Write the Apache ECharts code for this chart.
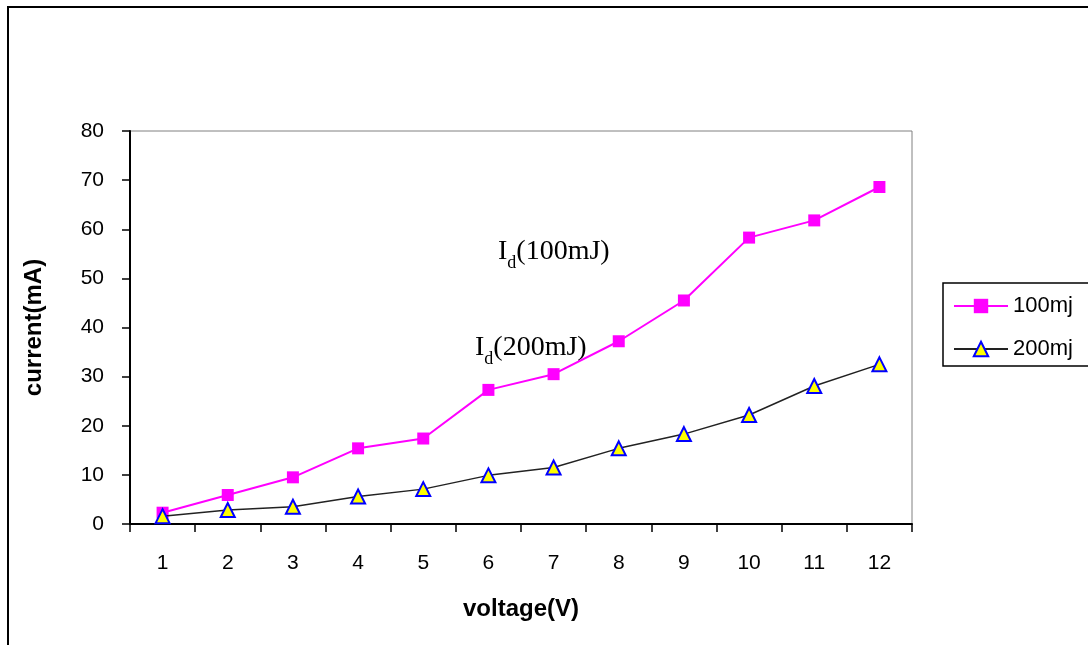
<!DOCTYPE html>
<html>
<head>
<meta charset="utf-8">
<script src="https://cdn.jsdelivr.net/npm/echarts@6/dist/echarts.min.js"></script>
<style>html,body{margin:0;padding:0;background:#fff;}#c{width:1088px;height:645px;}</style>
</head>
<body>
<div id="c"></div>
<script>
var categories = ['1','2','3','4','5','6','7','8','9','10','11','12'];
var series100 = [2.3, 5.9, 9.5, 15.4, 17.4, 27.3, 30.5, 37.2, 45.5, 58.3, 61.8, 68.6];
var series200 = [1.6, 2.85, 3.5, 5.6, 7.1, 9.9, 11.5, 15.4, 18.3, 22.2, 28.1, 32.5];
var seriesNames = ['100mj', '200mj'];
var yTicks = {min: 0, max: 80, interval: 10};

var chart = echarts.init(document.getElementById('c'));
var font = 'Liberation Sans, Arial, sans-serif';
var serif = 'Liberation Serif, Times New Roman, serif';
function annot(label) {
  return {
    text: '{a|I}{b|d}{a|(' + label + ')}',
    rich: {
      a: {fontFamily: serif, fontSize: 28, fill: '#000', verticalAlign: 'bottom', lineHeight: 34},
      b: {fontFamily: serif, fontSize: 18, fill: '#000', verticalAlign: 'bottom', lineHeight: 22, padding: [0, 0, -6, 0]}
    }
  };
}
chart.setOption({
  animation: false,
  backgroundColor: '#fff',
  grid: {left: 130, top: 131, width: 782, height: 393, show: true, borderColor: '#808080', borderWidth: 1, backgroundColor: 'transparent'},
  legend: {
    left: 943, top: 283, orient: 'vertical',
    itemWidth: 54, itemHeight: 18, itemGap: 21,
    padding: [12, 30, 6, 10],
    borderColor: '#000', borderWidth: 1.5,
    textStyle: {fontFamily: font, fontSize: 22, color: '#000'},
    data: seriesNames
  },
  xAxis: {
    type: 'category', data: categories, boundaryGap: true,
    axisLine: {lineStyle: {color: '#000', width: 2}},
    axisTick: {show: true, length: 8, inside: false, lineStyle: {color: '#000', width: 1.5}},
    axisLabel: {fontFamily: font, fontSize: 21, color: '#000', margin: 29},
    name: 'voltage(V)', nameLocation: 'middle', nameGap: 73,
    nameTextStyle: {fontFamily: font, fontSize: 24, fontWeight: 'bold', color: '#000'},
    splitLine: {show: false}
  },
  yAxis: {
    type: 'value', min: yTicks.min, max: yTicks.max, interval: yTicks.interval,
    axisLine: {show: true, lineStyle: {color: '#000', width: 2}},
    axisTick: {show: true, length: 8, lineStyle: {color: '#000', width: 1.5}},
    axisLabel: {fontFamily: font, fontSize: 21, color: '#000', margin: 26},
    splitLine: {show: false},
    name: 'current(mA)', nameLocation: 'middle', nameGap: 84, nameRotate: 90,
    nameTextStyle: {fontFamily: font, fontSize: 24, fontWeight: 'bold', color: '#000'}
  },
  series: [
    {name: seriesNames[0], type: 'line', data: series100, symbol: 'rect', symbolSize: 12,
     lineStyle: {color: '#ff00ff', width: 2}, itemStyle: {color: '#ff00ff', borderWidth: 0}, z: 3},
    {name: seriesNames[1], type: 'line', data: series200, symbol: 'triangle', symbolSize: 14,
     lineStyle: {color: '#222', width: 1.5}, itemStyle: {color: '#ffff00', borderColor: '#0000ff', borderWidth: 2}, z: 4}
  ],
  graphic: [
    {type: 'rect', shape: {x: 8, y: 7, width: 1200, height: 800}, style: {fill: 'none', stroke: '#000', lineWidth: 2}, silent: true, z: -1},
    {type: 'text', left: 498, top: 238, style: annot('100mJ')},
    {type: 'text', left: 475, top: 334, style: annot('200mJ')}
  ]
});
</script>
</body>
</html>
